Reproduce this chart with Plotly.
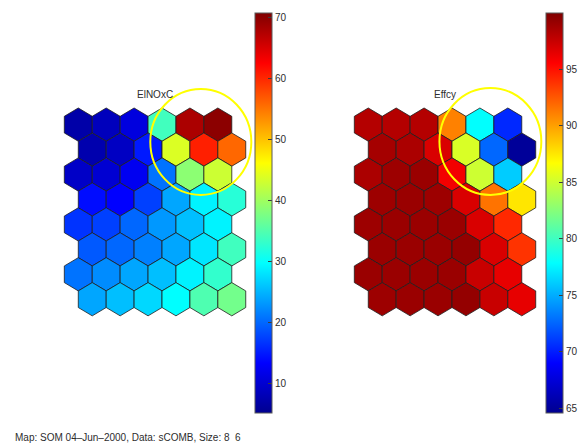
import math
import plotly.graph_objects as go
from plotly.colors import sample_colorscale

# SOM component planes, 8 rows x 6 columns, hexagonal lattice
elnoxc_values = [
    [7.0, 8.5, 11.0, 34.0, 68.0, 70.0],
    [7.5, 9.0, 15.0, 43.9, 60.6, 56.0],
    [9.3, 10.1, 12.4, 20.8, 38.8, 42.9],
    [14.2, 13.4, 17.5, 24.1, 29.0, 32.3],
    [16.7, 17.5, 20.0, 23.2, 25.7, 29.0],
    [19.1, 20.0, 21.6, 24.1, 28.2, 33.9],
    [20.8, 22.4, 24.1, 25.7, 29.0, 33.0],
    [24.1, 25.7, 27.3, 29.8, 34.8, 37.2],
]
effcy_values = [
    [98.2, 98.2, 98.2, 91.1, 77.9, 70.4],
    [98.7, 98.5, 96.9, 85.4, 72.6, 65.0],
    [98.5, 99.0, 99.1, 96.0, 85.0, 76.1],
    [99.0, 99.1, 99.0, 96.9, 91.6, 87.6],
    [99.0, 99.1, 99.1, 99.1, 96.9, 94.2],
    [99.1, 99.1, 99.1, 99.3, 96.9, 93.8],
    [99.1, 99.1, 99.1, 99.1, 97.5, 96.4],
    [99.0, 99.1, 99.1, 99.3, 97.5, 96.4],
]
elnoxc_range = [5.2, 70.8]
effcy_range = [64.6, 100.0]
elnoxc_ticks = [10, 20, 30, 40, 50, 60, 70]
effcy_ticks = [65, 70, 75, 80, 85, 90, 95]
plane_titles = ["ElNOxC", "Effcy"]
footer = "Map: SOM 04\u2013Jun\u20132000, Data: sCOMB, Size: 8\u00a0\u00a06"

W, H = 583, 445
FONT = "Liberation Sans, Arial, sans-serif"
TXT = "rgb(45,45,45)"

jet = [
    [0.0, "rgb(0,0,143)"],
    [0.125, "rgb(0,0,255)"],
    [0.375, "rgb(0,255,255)"],
    [0.625, "rgb(255,255,0)"],
    [0.875, "rgb(255,0,0)"],
    [1.0, "rgb(128,0,0)"],
]

UX, UY = 28.2, 28.8          # pixels per lattice unit
XR = [-0.8, 6.4]
YR = [-6.95, 1.5]
R = 1 / math.sqrt(3)         # hexagon circumradius
DY = math.sqrt(0.75)         # row spacing


def domains(left_px, top_px):
    # left_px: pixel of x=-0.5, top_px: pixel of topmost hex vertex
    x0 = left_px + (XR[0] + 0.5) * UX
    x1 = left_px + (XR[1] + 0.5) * UX
    y_top = top_px - (YR[1] - R) * UY
    y_bot = top_px + (R - YR[0]) * UY
    return [x0 / W, x1 / W], [1 - y_bot / H, 1 - y_top / H]


fig = go.Figure()

planes = [
    dict(vals=elnoxc_values, rng=elnoxc_range, ticks=elnoxc_ticks, left=65, top=108, cbx=258,
         ell=(2.58, 1.24, 6.20, -2.44)),
    dict(vals=effcy_values, rng=effcy_range, ticks=effcy_ticks, left=358, top=108, cbx=552,
         ell=(2.55, 1.27, 6.20, -2.44)),
]

for k, p in enumerate(planes):
    xa = "x" if k == 0 else "x2"
    ya = "y" if k == 0 else "y2"
    lo, hi = p["rng"]
    for r, row in enumerate(p["vals"]):
        for c, v in enumerate(row):
            cx = c + 0.5 * (r % 2)
            cy = -r * DY
            xs, ys = [], []
            for i in range(7):
                a = math.radians(90 + 60 * i)
                xs.append(cx + R * math.cos(a))
                ys.append(cy + R * math.sin(a))
            t = min(max((v - lo) / (hi - lo), 0), 1)
            col = sample_colorscale(jet, [t])[0]
            fig.add_trace(go.Scatter(
                x=xs, y=ys, mode="lines", fill="toself", fillcolor=col,
                line=dict(color="rgb(30,30,30)", width=0.8),
                hoverinfo="skip", showlegend=False, xaxis=xa, yaxis=ya))
    # colour scale
    fig.add_trace(go.Scatter(
        x=[None], y=[None], mode="markers", showlegend=False, hoverinfo="skip",
        xaxis=xa, yaxis=ya,
        marker=dict(colorscale=jet, cmin=lo, cmax=hi, color=[lo], showscale=True,
                    colorbar=dict(
                        x=p["cbx"] / W, xanchor="left", y=1 - 213 / H, yanchor="middle",
                        len=400 / H, lenmode="fraction", thickness=17, thicknessmode="pixels",
                        xpad=0, ypad=0, outlinecolor="rgb(90,90,90)", outlinewidth=1,
                        tickvals=p["ticks"], ticktext=[str(t) for t in p["ticks"]],
                        ticks="inside", ticklen=4, tickcolor="rgb(60,60,60)",
                        tickfont=dict(family=FONT, size=10, color=TXT)))))
    xd, yd = domains(p["left"], p["top"])
    ax = dict(range=XR, domain=xd, visible=False, fixedrange=True)
    ay = dict(range=YR, domain=yd, visible=False, fixedrange=True)
    if k == 0:
        fig.update_layout(xaxis=ax, yaxis=dict(ay, anchor="x"))
    else:
        fig.update_layout(xaxis2=dict(ax, anchor="y2"), yaxis2=dict(ay, anchor="x2"))
    x0, y0, x1, y1 = p["ell"]
    fig.add_shape(type="circle", xref=xa, yref=ya, x0=x0, y0=y1, x1=x1, y1=y0,
                  line=dict(color="rgb(255,255,0)", width=2))
    fig.add_annotation(text=plane_titles[k], xref=xa, yref=ya, x=2.75, y=R + 13 / UY,
                       showarrow=False, yanchor="middle",
                       font=dict(family=FONT, size=10, color=TXT))

fig.add_annotation(text=footer, xref="paper", yref="paper", x=13 / W, y=1 - 437 / H,
                   xanchor="left", yanchor="middle", showarrow=False,
                   font=dict(family=FONT, size=10, color=TXT))

fig.update_layout(width=W, height=H, margin=dict(l=0, r=0, t=0, b=0),
                  paper_bgcolor="white", plot_bgcolor="white", showlegend=False)

fig.write_html("out.html")
